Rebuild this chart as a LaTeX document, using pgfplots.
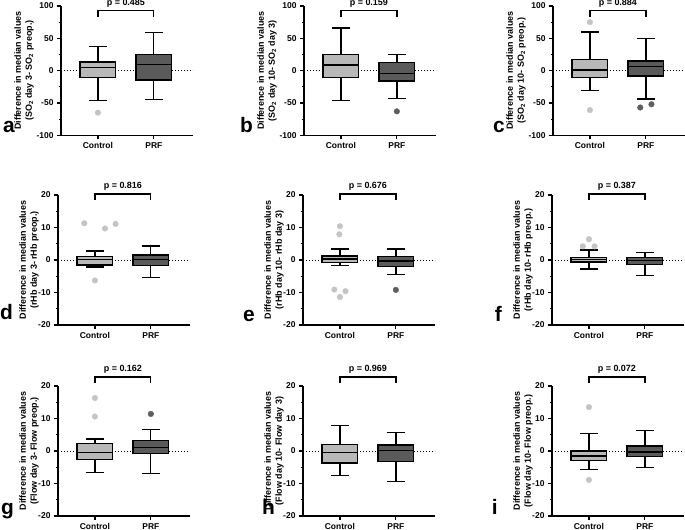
\documentclass[border=0pt]{standalone}
\usepackage{fontspec}
\setmainfont{Liberation Sans}
\usepackage{pgfplots}
\pgfplotsset{compat=1.18}
\usepgfplotslibrary{statistics}
\definecolor{ctrl}{HTML}{B8B8B8}
\definecolor{prf}{HTML}{5A5A5A}
\definecolor{ctrlpt}{HTML}{C4C4C4}
\definecolor{prfpt}{HTML}{5E5E5E}
\pgfplotsset{
 panel/.style={
  scale only axis, width=132bp, height=130bp,
  xmin=0.34, xmax=2.70,
  axis x line*=bottom, axis y line*=left,
  axis line style={line width=1.2bp, black},
  xtick={1,2}, xticklabels={Control,PRF},
  tick style={line width=1.2bp, black},
  major tick length=4bp, minor tick length=2.2bp,
  tick align=outside,
  /pgf/number format/assume math mode=true,
  ticklabel style={font=\bfseries\fontsize{8.5}{10}\selectfont},
  ylabel style={font=\bfseries\fontsize{9}{11}\selectfont, align=center, anchor=south, inner sep=0pt},
  clip=false,
  anchor=south west,
  boxplot/draw direction=y,
 },
 rowA/.style={ymin=-100, ymax=100, ytick={-100,-50,0,50,100}, minor ytick={-75,-25,25,75}, height=129.3bp,
   ylabel style={at={([xshift=-27bp]rel axis cs:0,0.5)}}},
 rowB/.style={ymin=-20, ymax=20, ytick={-20,-10,0,10,20}, minor ytick={-15,-5,5,15},
   ylabel style={at={([xshift=-19bp]rel axis cs:0,0.5)}}},
}
\newcommand{\bx}[7]{%
\addplot[draw=black, fill=#2, line width=1.3bp, boxplot prepared={draw position=#1, lower whisker=#3, lower quartile=#4, median=#5, upper quartile=#6, upper whisker=#7, box extend=0.64, whisker extend=0.32}] coordinates {};}
\newcommand{\zero}{\addplot[black, line width=0.9bp, dash pattern=on 1.2bp off 1.8bp] coordinates {(0.34,0)(2.70,0)};}
\newcommand{\brk}[3]{%
\addplot[black, line width=1.3bp] coordinates {(1,#1)(1,#2)(2,#2)(2,#1)};
\node[anchor=south, inner sep=0pt, yshift=3bp, font=\bfseries\fontsize{9}{10}\selectfont] at (axis cs:1.5,#2) {p = #3};}
\newcommand{\lett}[3]{\node[anchor=base east, inner sep=0pt, font=\bfseries\fontsize{21}{21}\selectfont] at (#1bp,#2bp) {#3};}
\begin{document}
\begin{tikzpicture}
\useasboundingbox (0,0) rectangle (685bp,530bp);
% ---------- a ----------
\begin{axis}[panel, rowA, at={(61bp,394.7bp)},
  ylabel={Difference in median values\\(SO\textsubscript{2} day 3- SO\textsubscript{2} preop.)}]
\zero
\bx{1}{ctrl}{-46}{-10.3}{4.6}{13.4}{37}
\bx{2}{prf}{-45}{-14.4}{10}{25}{59}
\addplot[only marks, mark=*, mark size=2.8bp, color=ctrlpt] coordinates {(1,-65)};
\brk{82.5}{92.8}{0.485}
\end{axis}
% ---------- b ----------
\begin{axis}[panel, rowA, at={(304bp,394.7bp)},
  ylabel={Difference in median values\\(SO\textsubscript{2} day 10- SO\textsubscript{2} day 3)}]
\zero
\bx{1}{ctrl}{-46}{-10.8}{8.8}{25}{66}
\bx{2}{prf}{-43}{-16}{-4}{12.4}{24.7}
\addplot[only marks, mark=*, mark size=2.8bp, color=prfpt] coordinates {(2,-63)};
\brk{82.5}{92.8}{0.159}
\end{axis}
% ---------- c ----------
\begin{axis}[panel, rowA, at={(553bp,394.7bp)},
  ylabel={Difference in median values\\(SO\textsubscript{2} day 10- SO\textsubscript{2} preop.)}]
\zero
\bx{1}{ctrl}{-31}{-10.3}{1}{17}{60}
\bx{2}{prf}{-44}{-8.2}{6.7}{15}{50}
\addplot[only marks, mark=*, mark size=2.8bp, color=ctrlpt] coordinates {(1,75)(1,-61)};
\addplot[only marks, mark=*, mark size=2.8bp, color=prfpt] coordinates {(1.9,-57)(2.1,-52)};
\brk{82.5}{92.8}{0.884}
\end{axis}
% ---------- d ----------
\begin{axis}[panel, rowB, at={(58bp,205bp)},
  ylabel={Difference in median values\\(rHb day 3- rHb preop.)}]
\zero
\bx{1}{ctrl}{-2.2}{-1.5}{0.2}{1.1}{2.8}
\bx{2}{prf}{-5.4}{-1.7}{0.1}{1.5}{4.3}
\addplot[only marks, mark=*, mark size=2.8bp, color=ctrlpt] coordinates {(0.81,11.3)(1.18,9.7)(1.37,11.1)(1,-6.3)};
\brk{18.4}{20.3}{0.816}
\end{axis}
% ---------- e ----------
\begin{axis}[panel, rowB, at={(303bp,205bp)},
  ylabel={Difference in median values\\(rHb day 10- rHb day 3)}]
\zero
\bx{1}{ctrl}{-1.8}{-0.8}{0.3}{1.2}{3.4}
\bx{2}{prf}{-4.4}{-2.1}{-0.3}{1.1}{3.4}
\addplot[only marks, mark=*, mark size=2.8bp, color=ctrlpt] coordinates {(1,10.4)(0.99,7.9)(0.9,-9.1)(1.1,-9.6)(1,-11.4)};
\addplot[only marks, mark=*, mark size=2.8bp, color=prfpt] coordinates {(2,-9.2)};
\brk{18.4}{20.3}{0.676}
\end{axis}
% ---------- f ----------
\begin{axis}[panel, rowB, at={(552bp,205bp)},
  ylabel={Difference in median values\\(rHb day 10- rHb preop.)}]
\zero
\bx{1}{ctrl}{-2.8}{-0.6}{0.2}{0.8}{3.1}
\bx{2}{prf}{-4.8}{-1.4}{-0.2}{0.8}{2.4}
\addplot[only marks, mark=*, mark size=2.8bp, color=ctrlpt] coordinates {(1,6.4)(0.89,4.2)(1.1,4.2)};
\brk{18.4}{20.3}{0.387}
\end{axis}
% ---------- g ----------
\begin{axis}[panel, rowB, at={(58bp,14bp)},
  ylabel={Difference in median values\\(Flow day 3- Flow preop.)}]
\zero
\bx{1}{ctrl}{-6.7}{-2.7}{-0.4}{2.2}{3.7}
\bx{2}{prf}{-7.0}{-0.7}{1.1}{3.2}{6.7}
\addplot[only marks, mark=*, mark size=2.8bp, color=ctrlpt] coordinates {(1,16.3)(1,10.6)};
\addplot[only marks, mark=*, mark size=2.8bp, color=prfpt] coordinates {(2,11.4)};
\brk{20.9}{22.8}{0.162}
\end{axis}
% ---------- h ----------
\begin{axis}[panel, rowB, at={(303bp,14bp)},
  ylabel={Difference in median values\\(Flow day 10- Flow day 3)}]
\zero
\bx{1}{ctrl}{-7.5}{-3.7}{-0.5}{2.1}{7.8}
\bx{2}{prf}{-9.4}{-3.3}{0.2}{1.8}{5.6}
\brk{20.9}{22.8}{0.969}
\end{axis}
% ---------- i ----------
\begin{axis}[panel, rowB, at={(552bp,14bp)},
  ylabel={Difference in median values\\(Flow day 10- Flow preop.)}]
\zero
\bx{1}{ctrl}{-5.7}{-3.0}{-1.5}{0}{5.3}
\bx{2}{prf}{-5.0}{-1.6}{-0.3}{1.5}{6.3}
\addplot[only marks, mark=*, mark size=2.8bp, color=ctrlpt] coordinates {(1,13.5)(1,-8.9)};
\brk{20.9}{22.8}{0.072}
\end{axis}
% ---------- letters ----------
\lett{15}{397}{a}
\lett{253}{397}{b}
\lett{505}{397}{c}
\lett{13}{210}{d}
\lett{255}{208}{e}
\lett{502}{208}{f}
\lett{14}{16}{g}
\lett{275}{16}{h}
\lett{498}{16}{i}
\end{tikzpicture}
\end{document}
